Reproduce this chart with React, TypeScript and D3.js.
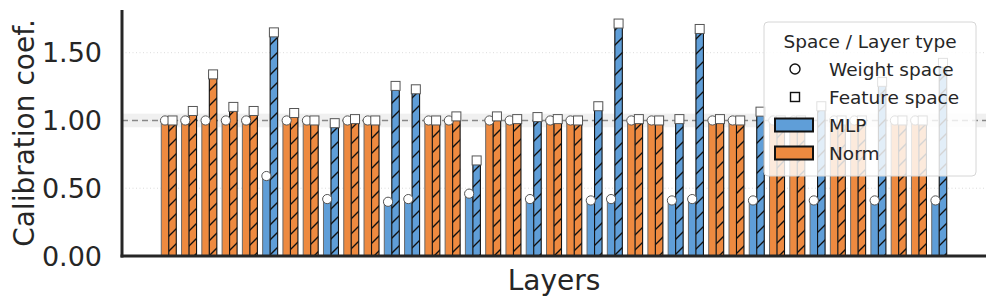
import { useEffect, useRef } from 'react';
import * as d3 from 'd3';

// Layer type of every layer, left to right
const layerTypes = [
  'Norm', 'Norm', 'Norm', 'Norm', 'Norm', 'MLP', 'Norm', 'Norm', 'MLP', 'Norm',
  'Norm', 'MLP', 'MLP', 'Norm', 'Norm', 'MLP', 'Norm', 'Norm', 'MLP', 'Norm',
  'Norm', 'MLP', 'MLP', 'Norm', 'Norm', 'MLP', 'MLP', 'Norm', 'Norm', 'MLP',
  'Norm', 'Norm', 'MLP', 'Norm', 'Norm', 'MLP', 'Norm', 'Norm', 'MLP',
];

// Calibration coefficient in weight space
const weightSpace = [
  1.0, 1.0, 1.0, 1.0, 1.0, 0.59, 1.0, 1.0, 0.42, 1.0,
  1.0, 0.4, 0.42, 1.0, 1.0, 0.46, 1.0, 1.0, 0.42, 1.0,
  1.0, 0.41, 0.42, 1.0, 1.0, 0.41, 0.42, 1.0, 1.0, 0.41,
  1.0, 1.0, 0.41, 1.0, 1.0, 0.41, 1.0, 1.0, 0.41,
];

// Calibration coefficient in feature space
const featureSpace = [
  1.0, 1.07, 1.34, 1.1, 1.07, 1.65, 1.055, 1.0, 0.98, 1.01,
  1.0, 1.255, 1.23, 1.0, 1.03, 0.705, 1.03, 1.01, 1.025, 1.01,
  1.0, 1.105, 1.715, 1.01, 1.0, 1.01, 1.675, 1.01, 1.0, 1.065,
  1.0, 1.0, 1.105, 1.0, 1.0, 1.285, 1.0, 1.0, 1.425,
];

const yTicks = [0, 0.5, 1.0, 1.5];
const typeColors: Record<string, string> = { MLP: '#5f9ed8', Norm: '#ee8a40' };
const legendTitle = 'Space / Layer type';

export default function App() {
  const svgRef = useRef<SVGSVGElement>(null);

  useEffect(() => {
    if (!svgRef.current) return;
    const root = d3.select(svgRef.current);
    root.selectAll('*').remove();

    const W = 997;
    const H = 307;
    const left = 122;
    const right = 986;
    const top = 10;
    const bottom = 256;
    const font = 'DejaVu Sans, sans-serif';
    const ink = '#262626';

    root.attr('width', W).attr('height', H);
    root.append('rect').attr('width', W).attr('height', H).attr('fill', '#fff');

    const n = layerTypes.length;
    const bw = 0.37;
    const pad = (n - 1 + 2 * bw) * 0.05;
    const x = d3
      .scaleLinear()
      .domain([-bw - pad, n - 1 + bw + pad])
      .range([left, right]);
    const y = d3.scaleLinear().domain([0, 1.815]).range([bottom, top]);
    const px = x(bw) - x(0);

    const defs = root.append('defs');
    const hs = 15;
    const pat = defs
      .append('pattern')
      .attr('id', 'hatch')
      .attr('patternUnits', 'userSpaceOnUse')
      .attr('width', hs)
      .attr('height', hs);
    pat
      .append('path')
      .attr('d', `M0,${hs} L${hs},0 M-3,3 L3,-3 M${hs - 3},${hs + 3} L${hs + 3},${hs - 3}`)
      .attr('stroke', '#111')
      .attr('stroke-width', 1.4);

    // grid
    const g = root.append('g');
    yTicks.slice(1).forEach((t) => {
      g.append('line')
        .attr('x1', left)
        .attr('x2', right)
        .attr('y1', y(t))
        .attr('y2', y(t))
        .attr('stroke', '#dcdcdc')
        .attr('stroke-width', 1)
        .attr('stroke-dasharray', '1,2.5');
    });

    // band + reference line at 1.0
    g.append('rect')
      .attr('x', left)
      .attr('width', right - left)
      .attr('y', y(1.05))
      .attr('height', y(0.95) - y(1.05))
      .attr('fill', '#e6e6e6')
      .attr('opacity', 0.6);
    g.append('line')
      .attr('x1', left)
      .attr('x2', right)
      .attr('y1', y(1))
      .attr('y2', y(1))
      .attr('stroke', '#888')
      .attr('stroke-width', 1.6)
      .attr('stroke-dasharray', '6,4');

    // bars
    layerTypes.forEach((type, i) => {
      const c = typeColors[type];
      const xw = x(i) - px;
      const xf = x(i);
      g.append('rect')
        .attr('x', xw)
        .attr('y', y(weightSpace[i]))
        .attr('width', px)
        .attr('height', bottom - y(weightSpace[i]))
        .attr('fill', c)
        .attr('stroke', '#6a6a6a')
        .attr('stroke-width', 1);
      g.append('rect')
        .attr('x', xf)
        .attr('y', y(featureSpace[i]))
        .attr('width', px)
        .attr('height', bottom - y(featureSpace[i]))
        .attr('fill', c);
      g.append('rect')
        .attr('x', xf)
        .attr('y', y(featureSpace[i]))
        .attr('width', px)
        .attr('height', bottom - y(featureSpace[i]))
        .attr('fill', 'url(#hatch)')
        .attr('stroke', '#111')
        .attr('stroke-width', 1.1);
    });

    // markers
    layerTypes.forEach((_, i) => {
      g.append('circle')
        .attr('cx', x(i) - px / 2)
        .attr('cy', y(weightSpace[i]))
        .attr('r', 4.6)
        .attr('fill', '#fff')
        .attr('stroke', '#555')
        .attr('stroke-width', 1);
      g.append('rect')
        .attr('x', x(i) + px / 2 - 4.5)
        .attr('y', y(featureSpace[i]) - 4.5)
        .attr('width', 9)
        .attr('height', 9)
        .attr('fill', '#fff')
        .attr('stroke', '#555')
        .attr('stroke-width', 1);
    });

    // spines
    root.append('line')
      .attr('x1', left)
      .attr('x2', left)
      .attr('y1', top)
      .attr('y2', bottom + 1.5)
      .attr('stroke', ink)
      .attr('stroke-width', 3);
    root.append('line')
      .attr('x1', left - 1.5)
      .attr('x2', right)
      .attr('y1', bottom)
      .attr('y2', bottom)
      .attr('stroke', ink)
      .attr('stroke-width', 3);

    // y tick labels
    yTicks.forEach((t) => {
      root.append('text')
        .attr('x', 102)
        .attr('y', y(t))
        .attr('dy', '0.36em')
        .attr('text-anchor', 'end')
        .attr('font-family', font)
        .attr('font-size', 27)
        .attr('fill', ink)
        .text(d3.format('.2f')(t));
    });

    // axis labels
    root.append('text')
      .attr('transform', `translate(34,${(top + bottom) / 2}) rotate(-90)`)
      .attr('text-anchor', 'middle')
      .attr('font-family', font)
      .attr('font-size', 28)
      .attr('fill', ink)
      .text('Calibration coef.');
    root.append('text')
      .attr('x', (left + right) / 2)
      .attr('y', 290)
      .attr('text-anchor', 'middle')
      .attr('font-family', font)
      .attr('font-size', 28)
      .attr('fill', ink)
      .text('Layers');

    // legend
    const lg = root.append('g').attr('transform', 'translate(764,22)');
    lg.append('rect')
      .attr('width', 212)
      .attr('height', 154)
      .attr('rx', 4)
      .attr('fill', '#fff')
      .attr('fill-opacity', 0.82)
      .attr('stroke', '#d6d6d6')
      .attr('stroke-width', 1);
    lg.append('text')
      .attr('x', 106)
      .attr('y', 19)
      .attr('dy', '0.36em')
      .attr('text-anchor', 'middle')
      .attr('font-family', font)
      .attr('font-size', 18.5)
      .attr('fill', ink)
      .text(legendTitle);
    const rows = [
      { label: 'Weight space', kind: 'circle' },
      { label: 'Feature space', kind: 'square' },
      { label: 'MLP', kind: 'MLP' },
      { label: 'Norm', kind: 'Norm' },
    ];
    rows.forEach((r, k) => {
      const cy = 47 + k * 28;
      if (r.kind === 'circle') {
        lg.append('circle')
          .attr('cx', 31)
          .attr('cy', cy)
          .attr('r', 5)
          .attr('fill', '#fff')
          .attr('stroke', '#111')
          .attr('stroke-width', 1.4);
      } else if (r.kind === 'square') {
        lg.append('rect')
          .attr('x', 26.5)
          .attr('y', cy - 4.5)
          .attr('width', 9)
          .attr('height', 9)
          .attr('fill', '#fff')
          .attr('stroke', '#111')
          .attr('stroke-width', 1.4);
      } else {
        lg.append('rect')
          .attr('x', 11)
          .attr('y', cy - 6.5)
          .attr('width', 38)
          .attr('height', 13)
          .attr('fill', typeColors[r.kind])
          .attr('stroke', '#111')
          .attr('stroke-width', 2);
      }
      lg.append('text')
        .attr('x', 65)
        .attr('y', cy)
        .attr('dy', '0.36em')
        .attr('font-family', font)
        .attr('font-size', 18.5)
        .attr('fill', ink)
        .text(r.label);
    });
  }, []);

  return (
    <svg
      ref={svgRef}
      style={{ position: 'absolute', left: 0, top: 0, display: 'block' }}
    />
  );
}
